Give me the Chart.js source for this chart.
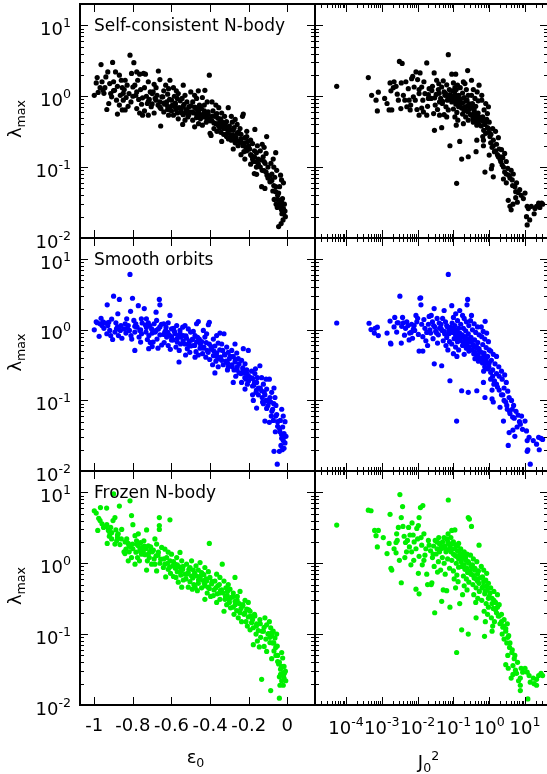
<!DOCTYPE html>
<html>
<head>
<meta charset="utf-8">
<script src="https://cdn.jsdelivr.net/npm/chart.js@4.4.1/dist/chart.umd.min.js"></script>
<style>
html, body { margin: 0; padding: 0; background: #fff; overflow: hidden; width: 547px; height: 774px; }
canvas { position: absolute; left: 0; top: 0; }
</style>
</head>
<body>
<canvas id="c0" width="560" height="774"></canvas>
<canvas id="c1" width="560" height="774"></canvas>
<canvas id="c2" width="560" height="774"></canvas>
<canvas id="c3" width="560" height="774"></canvas>
<canvas id="c4" width="560" height="774"></canvas>
<canvas id="c5" width="560" height="774"></canvas>
<script>
// tick values / labels
const epsTicks = [-1, -0.8, -0.6, -0.4, -0.2, 0];
const epsTickLabels = ['-1', '-0.8', '-0.6', '-0.4', '-0.2', '0'];
const lambdaTicks = [0.01, 0.1, 1, 10];
const lambdaTickExps = ['-2', '-1', '0', '1'];
const j2Ticks = [1e-4, 1e-3, 1e-2, 1e-1, 1, 10];
const j2TickExps = ['-4', '-3', '-2', '-1', '0', '1'];
const panelNames = ['Self-consistent N-body', 'Smooth orbits', 'Frozen N-body'];
const pointColors = ['#000000', '#0000ff', '#00ee00'];

// [epsilon_0, lambda_max]
const selfConsistentEps = [
  [-1.0,1.03],[-0.98,1.13],[-0.985,1.83],[-0.99,1.54],[-0.965,2.8],[-0.97,1.32],[-0.96,1.6],[-0.955,1.21],
  [-0.905,3.0],[-0.93,2.2],[-0.94,1.87],[-0.92,1.51],[-0.945,1.32],[-0.91,0.98],[-0.925,0.79],[-0.935,0.65],[-0.915,1.09],[-0.9,1.6],
  [-0.89,2.2],[-0.87,1.98],[-0.86,1.68],[-0.88,1.38],[-0.895,1.21],[-0.865,1.03],[-0.885,0.88],[-0.87,0.75],[-0.855,0.64],[-0.88,0.56],[-0.855,1.32],
  [-0.815,3.8],[-0.807,2.1],[-0.84,1.68],[-0.83,1.43],[-0.845,1.24],[-0.82,1.09],[-0.835,0.96],[-0.81,0.83],[-0.825,0.72],[-0.84,0.64],[-0.8,1.35],[-0.85,0.88],
  [-0.795,2.97],[-0.78,2.2],[-0.765,2.05],[-0.775,1.68],[-0.79,1.43],[-0.76,1.24],[-0.785,1.03],[-0.77,0.9],[-0.755,0.77],[-0.78,0.67],[-0.765,0.58],[-0.75,0.54],
  [-0.745,2.1],[-0.735,2.05],[-0.72,1.6],[-0.74,1.32],[-0.71,1.15],[-0.73,1.0],[-0.715,0.9],[-0.725,0.79],[-0.705,0.71],[-0.74,0.62],[-0.72,0.54],[-0.7,1.09],
  [-0.668,2.27],[-0.66,1.72],[-0.69,1.47],[-0.68,1.32],[-0.695,1.15],[-0.675,1.03],[-0.685,0.93],[-0.66,0.83],[-0.67,0.75],[-0.655,0.67],[-0.69,0.58],[-0.656,0.38],[-0.65,0.98],
  [-0.608,1.68],[-0.63,1.43],[-0.615,1.28],[-0.64,1.19],[-0.62,1.07],[-0.645,0.98],[-0.61,0.9],[-0.625,0.83],[-0.635,0.77],[-0.605,0.71],[-0.62,0.65],[-0.64,0.6],[-0.615,0.54],[-0.6,0.88],
  [-0.59,1.32],[-0.575,1.19],[-0.565,1.09],[-0.585,1.0],[-0.57,0.93],[-0.555,0.86],[-0.58,0.8],[-0.595,0.75],[-0.56,0.69],[-0.575,0.64],[-0.55,0.59],[-0.59,0.54],[-0.565,0.48],[-0.58,0.77],
  [-0.539,1.43],[-0.5,1.15],[-0.53,1.03],[-0.545,0.93],[-0.52,0.83],[-0.535,0.77],[-0.51,0.71],[-0.525,0.65],[-0.505,0.6],[-0.54,0.55],[-0.515,0.51],[-0.53,0.46],[-0.542,0.4],[-0.5,0.73],
  [-0.461,1.19],[-0.48,1.03],[-0.47,0.93],[-0.49,0.83],[-0.455,0.75],[-0.475,0.69],[-0.465,0.64],[-0.485,0.58],[-0.45,0.54],[-0.47,0.5],[-0.49,0.46],[-0.46,0.41],[-0.48,0.37],[-0.455,0.66],
  [-0.404,1.98],[-0.427,1.21],[-0.44,0.96],[-0.415,0.83],[-0.43,0.75],[-0.445,0.67],[-0.41,0.6],[-0.425,0.56],[-0.435,0.51],[-0.405,0.47],[-0.42,0.43],[-0.44,0.39],[-0.4,0.3],[-0.43,0.58],
  [-0.39,0.83],[-0.37,0.75],[-0.355,0.69],[-0.385,0.62],[-0.365,0.57],[-0.375,0.52],[-0.36,0.49],[-0.39,0.45],[-0.37,0.41],[-0.355,0.38],[-0.38,0.35],[-0.365,0.32],[-0.395,0.28],[-0.35,0.44],
  [-0.306,0.69],[-0.34,0.58],[-0.325,0.52],[-0.345,0.48],[-0.315,0.44],[-0.335,0.4],[-0.32,0.37],[-0.31,0.34],[-0.345,0.31],[-0.33,0.29],[-0.315,0.27],[-0.305,0.25],[-0.34,0.23],[-0.3,0.35],
  [-0.29,0.52],[-0.27,0.47],[-0.285,0.43],[-0.26,0.4],[-0.275,0.36],[-0.295,0.33],[-0.255,0.31],[-0.28,0.28],[-0.265,0.26],[-0.29,0.24],[-0.27,0.22],[-0.255,0.2],[-0.28,0.18],[-0.25,0.3],
  [-0.228,0.56],[-0.232,0.52],[-0.245,0.35],[-0.21,0.32],[-0.24,0.29],[-0.22,0.26],[-0.205,0.23],[-0.235,0.22],[-0.215,0.19],[-0.2,0.18],[-0.225,0.165],[-0.24,0.15],[-0.22,0.13],[-0.21,0.27],
  [-0.168,0.34],[-0.19,0.24],[-0.18,0.215],[-0.155,0.2],[-0.195,0.18],[-0.17,0.17],[-0.16,0.16],[-0.185,0.145],[-0.15,0.13],[-0.175,0.12],[-0.19,0.11],[-0.16,0.1],[-0.171,0.081],[-0.159,0.079],
  [-0.107,0.27],[-0.13,0.21],[-0.12,0.19],[-0.14,0.17],[-0.11,0.156],[-0.125,0.14],[-0.135,0.126],[-0.115,0.113],[-0.1,0.1],[-0.12,0.089],[-0.105,0.077],[-0.133,0.053],[-0.116,0.05],
  [-0.073,0.13],[-0.06,0.16],[-0.085,0.113],[-0.07,0.1],[-0.055,0.09],[-0.08,0.08],[-0.065,0.072],[-0.09,0.062],[-0.06,0.053],[-0.075,0.046],[-0.05,0.04],[-0.068,0.035],[-0.058,0.03],[-0.052,0.027],
  [-0.02,0.06],[-0.035,0.077],[-0.03,0.066],[-0.04,0.053],[-0.045,0.043],[-0.025,0.036],[-0.03,0.032],[-0.015,0.03],[-0.035,0.028],[-0.02,0.026],[-0.012,0.024],[-0.028,0.022],[-0.01,0.02],[-0.022,0.018],[-0.032,0.016],[-0.045,0.0145],
  [-0.95,1.1],[-0.9,1.2],[-0.85,1.1],[-0.8,1.0],[-0.78,1.15],[-0.75,0.95],[-0.72,0.85],[-0.7,0.78],[-0.68,0.88],[-0.66,0.7],[-0.64,0.8],
  [-0.62,0.72],[-0.6,0.62],[-0.58,0.7],[-0.57,0.58],[-0.55,0.66],[-0.54,0.72],[-0.53,0.58],[-0.52,0.62],[-0.51,0.55],[-0.49,0.6],[-0.48,0.7],[-0.47,0.56],[-0.46,0.6],[-0.45,0.48],
  [-0.44,0.55],[-0.43,0.62],[-0.42,0.5],[-0.41,0.55],[-0.4,0.45],[-0.39,0.52],[-0.38,0.42],[-0.37,0.55],[-0.36,0.4],[-0.35,0.36],[-0.34,0.44],[-0.33,0.35],[-0.32,0.42],[-0.31,0.3],
  [-0.3,0.38],[-0.29,0.28],[-0.28,0.33],[-0.27,0.25],[-0.26,0.3],[-0.25,0.23],[-0.24,0.25],[-0.23,0.2],[-0.22,0.22],[-0.21,0.17],[-0.2,0.2],[-0.19,0.15],[-0.18,0.13],[-0.17,0.14],
  [-0.16,0.12],[-0.15,0.11],[-0.14,0.1],[-0.13,0.09],[-0.12,0.12],[-0.11,0.085],[-0.1,0.07],[-0.09,0.075],[-0.08,0.065],[-0.07,0.055],[-0.06,0.045],[-0.05,0.035],[-0.04,0.03],[-0.03,0.025],[-0.02,0.022]
];

const smoothEps = [
  [-1.0,1.0],[-0.985,1.26],[-0.975,0.81],[-0.965,1.46],[-0.97,1.22],[-0.955,1.3],[-0.96,1.15],[-0.99,1.3],
  [-0.933,2.26],[-0.94,1.25],[-0.93,1.15],[-0.92,0.98],[-0.915,0.83],[-0.905,0.73],[-0.9,3.0],[-0.925,1.28],[-0.935,0.88],[-0.91,1.42],
  [-0.87,2.7],[-0.878,1.69],[-0.885,1.03],[-0.865,0.98],[-0.893,0.93],[-0.875,0.83],[-0.862,1.15],[-0.888,1.26],[-0.857,0.76],
  [-0.815,6.1],[-0.802,2.8],[-0.812,1.83],[-0.832,1.43],[-0.824,1.15],[-0.846,1.03],[-0.836,0.9],[-0.81,0.83],[-0.818,0.98],[-0.84,1.22],[-0.806,0.74],
  [-0.79,0.51],[-0.772,2.2],[-0.795,1.36],[-0.785,1.22],[-0.778,1.09],[-0.764,0.98],[-0.755,0.88],[-0.768,0.79],[-0.752,1.25],[-0.79,0.93],[-0.76,0.67],[-0.756,1.43],
  [-0.741,2.0],[-0.73,1.43],[-0.72,1.26],[-0.712,1.15],[-0.703,1.03],[-0.732,0.93],[-0.717,0.83],[-0.725,0.73],[-0.71,0.66],[-0.7,0.58],[-0.735,1.17],[-0.718,0.54],
  [-0.663,2.7],[-0.66,2.26],[-0.68,1.78],[-0.677,1.36],[-0.69,1.22],[-0.652,1.2],[-0.668,1.03],[-0.685,0.93],[-0.66,0.85],[-0.675,0.74],[-0.695,0.67],[-0.651,0.61],[-0.67,0.55],
  [-0.608,1.6],[-0.64,1.22],[-0.617,1.26],[-0.628,1.09],[-0.6,1.03],[-0.635,0.93],[-0.612,0.85],[-0.625,0.79],[-0.6,0.72],[-0.638,0.66],[-0.617,0.6],[-0.606,0.53],[-0.63,0.98],
  [-0.561,0.35],[-0.59,1.05],[-0.573,1.15],[-0.556,0.98],[-0.581,0.88],[-0.565,0.83],[-0.552,0.79],[-0.592,0.72],[-0.57,0.67],[-0.553,0.63],[-0.577,0.57],[-0.56,0.51],
  [-0.542,1.09],[-0.53,1.15],[-0.513,1.03],[-0.501,0.93],[-0.539,0.83],[-0.522,0.76],[-0.508,0.68],[-0.53,0.63],[-0.5,0.59],[-0.518,0.54],[-0.505,0.48],[-0.527,0.44],
  [-0.461,1.31],[-0.47,1.22],[-0.487,0.95],[-0.478,0.83],[-0.456,0.74],[-0.47,0.67],[-0.487,0.6],[-0.452,0.55],[-0.473,0.49],[-0.461,0.44],[-0.478,0.41],[-0.49,0.74],
  [-0.404,1.28],[-0.409,1.18],[-0.435,0.98],[-0.418,0.88],[-0.427,0.79],[-0.444,0.68],[-0.404,0.63],[-0.432,0.57],[-0.415,0.51],[-0.439,0.46],[-0.422,0.41],[-0.402,0.38],
  [-0.375,0.245],[-0.349,0.9],[-0.366,0.83],[-0.383,0.74],[-0.358,0.65],[-0.375,0.59],[-0.392,0.53],[-0.366,0.47],[-0.383,0.43],[-0.352,0.39],[-0.37,0.36],[-0.387,0.32],[-0.358,0.3],
  [-0.328,0.88],[-0.34,0.63],[-0.314,0.57],[-0.335,0.51],[-0.306,0.48],[-0.323,0.44],[-0.345,0.41],[-0.3,0.39],[-0.318,0.36],[-0.332,0.32],[-0.306,0.3],[-0.31,0.27],
  [-0.271,0.63],[-0.28,0.18],[-0.288,0.51],[-0.262,0.47],[-0.28,0.42],[-0.254,0.39],[-0.271,0.35],[-0.288,0.32],[-0.259,0.3],[-0.276,0.27],[-0.25,0.245],[-0.267,0.22],
  [-0.228,0.54],[-0.202,0.51],[-0.237,0.37],[-0.219,0.33],[-0.231,0.29],[-0.21,0.27],[-0.224,0.245],[-0.202,0.225],[-0.214,0.2],[-0.237,0.18],[-0.207,0.17],[-0.219,0.145],
  [-0.185,0.26],[-0.168,0.24],[-0.18,0.205],[-0.159,0.18],[-0.173,0.165],[-0.15,0.15],[-0.162,0.13],[-0.18,0.12],[-0.159,0.078],[-0.176,0.1],[-0.155,0.21],[-0.165,0.28],
  [-0.142,0.31],[-0.116,0.051],[-0.133,0.21],[-0.11,0.2],[-0.124,0.17],[-0.107,0.145],[-0.133,0.137],[-0.116,0.12],[-0.102,0.1],[-0.124,0.09],[-0.107,0.077],[-0.128,0.095],
  [-0.093,0.2],[-0.069,0.15],[-0.093,0.049],[-0.069,0.019],[-0.052,0.0125],[-0.081,0.13],[-0.064,0.11],[-0.086,0.095],[-0.059,0.085],[-0.076,0.075],[-0.055,0.063],[-0.072,0.052],[-0.05,0.043],[-0.062,0.036],[-0.083,0.06],
  [-0.041,0.019],[-0.029,0.075],[-0.021,0.06],[-0.036,0.052],[-0.012,0.05],[-0.024,0.042],[-0.038,0.036],[-0.017,0.034],[-0.007,0.031],[-0.029,0.029],[-0.021,0.027],[-0.012,0.025],[-0.033,0.023],[-0.017,0.021],[-0.026,0.02],
  [-0.95,1.05],[-0.88,1.1],[-0.83,1.05],[-0.79,1.12],[-0.76,1.0],[-0.73,1.08],[-0.7,0.9],[-0.68,0.98],[-0.66,1.1],[-0.64,0.86],[-0.62,0.92],
  [-0.6,0.8],[-0.585,0.95],[-0.57,0.76],[-0.555,0.88],[-0.54,0.7],[-0.525,0.82],[-0.51,0.62],[-0.495,0.72],[-0.48,0.6],[-0.465,0.78],[-0.45,0.63],[-0.435,0.55],
  [-0.42,0.66],[-0.41,0.48],[-0.395,0.58],[-0.38,0.5],[-0.365,0.42],[-0.35,0.52],[-0.34,0.37],[-0.325,0.45],[-0.31,0.34],[-0.295,0.42],[-0.285,0.3],[-0.27,0.38],
  [-0.26,0.27],[-0.25,0.33],[-0.24,0.24],[-0.23,0.27],[-0.22,0.21],[-0.21,0.24],[-0.2,0.19],[-0.19,0.21],[-0.18,0.16],[-0.17,0.18],[-0.16,0.14],[-0.15,0.12],
  [-0.14,0.15],[-0.13,0.11],[-0.12,0.13],[-0.11,0.1],[-0.1,0.085],[-0.09,0.11],[-0.08,0.07],[-0.07,0.09],[-0.06,0.06],[-0.05,0.05],[-0.04,0.04],[-0.03,0.033],[-0.02,0.03]
];

const frozenEps = [
  [-1.0,5.5],[-0.99,5.1],[-0.977,4.3],[-0.968,6.1],[-0.982,2.9],[-0.96,3.6],[-0.952,3.2],
  [-0.936,6.0],[-0.935,3.5],[-0.927,2.9],[-0.919,2.6],[-0.933,1.9],[-0.91,2.2],[-0.9,9.5],[-0.903,4.0],[-0.915,3.2],[-0.922,2.4],
  [-0.87,6.4],[-0.893,4.4],[-0.888,2.95],[-0.876,2.6],[-0.884,2.07],[-0.867,1.83],[-0.893,1.86],[-0.858,3.0],[-0.88,2.3],[-0.846,1.45],
  [-0.815,7.6],[-0.807,4.7],[-0.8,3.5],[-0.832,2.2],[-0.824,1.9],[-0.812,1.7],[-0.836,1.58],[-0.819,1.45],[-0.802,1.86],[-0.841,1.37],[-0.807,1.2],[-0.824,1.08],
  [-0.789,2.45],[-0.781,2.07],[-0.772,1.76],[-0.763,1.58],[-0.784,1.43],[-0.755,1.34],[-0.776,1.2],[-0.766,1.08],[-0.75,1.67],[-0.789,0.97],[-0.76,1.95],[-0.772,2.6],
  [-0.729,2.95],[-0.743,2.07],[-0.72,1.76],[-0.732,1.6],[-0.712,1.47],[-0.737,1.32],[-0.715,1.2],[-0.725,1.08],[-0.703,0.97],[-0.729,0.8],[-0.708,1.7],[-0.746,1.5],
  [-0.663,4.4],[-0.663,3.4],[-0.663,3.0],[-0.686,2.2],[-0.677,1.86],[-0.651,1.67],[-0.694,1.53],[-0.668,1.43],[-0.68,1.27],[-0.656,1.14],[-0.686,0.97],[-0.642,0.87],[-0.677,0.78],
  [-0.608,4.1],[-0.634,1.58],[-0.617,1.43],[-0.6,1.34],[-0.625,1.2],[-0.608,1.08],[-0.634,0.97],[-0.594,0.92],[-0.617,0.82],[-0.605,0.72],[-0.59,0.65],[-0.63,0.64],
  [-0.556,1.42],[-0.573,1.2],[-0.547,1.08],[-0.582,0.97],[-0.559,0.89],[-0.542,0.82],[-0.57,0.76],[-0.552,0.68],[-0.577,0.63],[-0.539,0.58],[-0.565,0.54],[-0.547,0.46],
  [-0.496,1.08],[-0.522,0.97],[-0.504,0.87],[-0.487,0.8],[-0.513,0.74],[-0.496,0.66],[-0.525,0.6],[-0.504,0.55],[-0.484,0.5],[-0.513,0.46],[-0.492,0.43],[-0.53,0.7],
  [-0.452,1.02],[-0.473,0.92],[-0.461,0.8],[-0.444,0.74],[-0.47,0.66],[-0.452,0.6],[-0.435,0.57],[-0.461,0.52],[-0.478,0.46],[-0.444,0.45],[-0.466,0.41],
  [-0.404,1.9],[-0.427,0.87],[-0.409,0.76],[-0.432,0.69],[-0.401,0.63],[-0.418,0.56],[-0.392,0.51],[-0.427,0.48],[-0.404,0.44],[-0.415,0.38],[-0.397,0.34],[-0.427,0.31],
  [-0.337,0.97],[-0.366,0.7],[-0.349,0.63],[-0.375,0.56],[-0.352,0.5],[-0.37,0.45],[-0.346,0.41],[-0.363,0.37],[-0.383,0.35],[-0.349,0.31],[-0.366,0.28],
  [-0.328,0.56],[-0.306,0.5],[-0.318,0.45],[-0.297,0.43],[-0.332,0.38],[-0.311,0.35],[-0.289,0.33],[-0.323,0.31],[-0.3,0.28],[-0.314,0.26],[-0.294,0.235],[-0.328,0.21],
  [-0.271,0.63],[-0.245,0.4],[-0.28,0.38],[-0.259,0.34],[-0.271,0.29],[-0.249,0.27],[-0.28,0.24],[-0.262,0.215],[-0.245,0.2],[-0.276,0.19],[-0.254,0.17],[-0.237,0.15],
  [-0.219,0.3],[-0.202,0.28],[-0.231,0.25],[-0.21,0.225],[-0.193,0.21],[-0.224,0.19],[-0.202,0.175],[-0.214,0.15],[-0.185,0.145],[-0.207,0.13],[-0.193,0.115],
  [-0.168,0.18],[-0.142,0.16],[-0.159,0.14],[-0.176,0.123],[-0.15,0.112],[-0.162,0.1],[-0.138,0.09],[-0.155,0.08],[-0.176,0.071],[-0.145,0.066],
  [-0.116,0.17],[-0.093,0.15],[-0.107,0.135],[-0.086,0.123],[-0.124,0.11],[-0.098,0.102],[-0.081,0.095],[-0.111,0.085],[-0.09,0.076],[-0.12,0.067],[-0.133,0.023],[-0.107,0.057],
  [-0.073,0.11],[-0.055,0.1],[-0.064,0.088],[-0.076,0.075],[-0.052,0.068],[-0.069,0.058],[-0.059,0.05],[-0.081,0.045],[-0.05,0.041],[-0.086,0.016],
  [-0.029,0.055],[-0.024,0.046],[-0.041,0.04],[-0.017,0.035],[-0.035,0.032],[-0.01,0.03],[-0.024,0.028],[-0.041,0.025],[-0.017,0.024],[-0.029,0.022],[-0.008,0.022],[-0.038,0.019],[-0.021,0.019],[-0.041,0.0125],
  [-0.97,4.0],[-0.94,3.3],[-0.91,2.7],[-0.88,2.5],[-0.86,2.2],[-0.84,2.0],[-0.82,1.75],[-0.8,1.6],[-0.78,1.85],[-0.76,1.45],[-0.74,1.75],[-0.72,1.35],
  [-0.7,1.45],[-0.69,1.15],[-0.67,1.3],[-0.66,1.0],[-0.64,1.15],[-0.62,1.0],[-0.61,0.88],[-0.59,1.05],[-0.58,0.85],[-0.57,0.95],[-0.55,0.78],[-0.54,0.9],
  [-0.52,0.7],[-0.51,0.82],[-0.49,0.62],[-0.48,0.72],[-0.46,0.58],[-0.45,0.66],[-0.43,0.52],[-0.42,0.6],[-0.41,0.46],[-0.39,0.55],[-0.38,0.42],[-0.36,0.48],
  [-0.35,0.38],[-0.34,0.42],[-0.32,0.34],[-0.31,0.4],[-0.3,0.31],[-0.28,0.34],[-0.27,0.26],[-0.26,0.3],[-0.24,0.23],[-0.23,0.26],[-0.22,0.2],[-0.2,0.22],
  [-0.19,0.18],[-0.18,0.16],[-0.17,0.19],[-0.16,0.13],[-0.14,0.14],[-0.13,0.11],[-0.12,0.125],[-0.1,0.1],[-0.09,0.09],[-0.08,0.105],[-0.07,0.075],[-0.06,0.065],
  [-0.05,0.05],[-0.045,0.038],[-0.035,0.027],[-0.03,0.035],[-0.02,0.026],[-0.015,0.028]
];

// [J_0^2, lambda_max]
const selfConsistentJ2 = [
  [5.5e-5,1.38],
  [4.2e-4,1.83],[5.2e-4,1.03],[6.9e-4,0.88],[7.5e-4,0.62],
  [8e-4,1.14],[1.4e-3,0.79],[1.7e-3,1.54],[1.6e-3,0.64],[1.2e-3,0.93],
  [1.8e-3,1.19],[2.1e-3,1.32],[2.5e-3,1.38],[2.7e-3,1.07],[2.9e-3,0.88],[1.9e-3,0.64],[3.1e-3,3.1],[2.2e-3,1.6],
  [3.7e-3,2.9],[3.5e-3,1.54],[4e-3,1.03],[4.4e-3,0.88],[5e-3,0.71],[5.5e-3,1.28],[5.8e-3,0.88],[6.2e-3,0.64],[4.7e-3,1.6],[3.4e-3,0.67],
  [6.8e-3,1.77],[7.3e-3,1.9],[9e-3,2.2],[0.01,1.72],[8e-3,1.35],[0.011,1.09],[8.6e-3,0.88],[6.4e-3,0.75],[9.6e-3,0.65],[0.011,0.54],[7.6e-3,0.98],[0.011,1.24],
  [0.018,2.95],[0.0117,2.13],[0.013,1.35],[0.016,1.09],[0.014,0.88],[0.019,0.72],[0.0145,0.6],[0.018,0.54],[0.021,1.28],[0.015,1.6],[0.02,0.93],[0.013,0.68],
  [0.029,2.13],[0.0295,0.33],[0.034,1.68],[0.026,1.38],[0.038,1.24],[0.033,1.06],[0.024,0.93],[0.041,0.83],[0.031,0.75],[0.036,0.65],[0.028,0.57],[0.041,0.54],[0.039,1.5],
  [0.047,0.36],[0.052,1.65],[0.055,1.15],[0.072,3.85],[0.08,0.2],[0.065,1.45],[0.047,1.35],[0.077,1.24],[0.058,1.03],[0.044,0.93],[0.068,0.88],[0.049,0.79],[0.062,0.71],[0.072,0.64],[0.055,0.55],[0.077,0.93],[0.065,0.51],
  [0.09,2.05],[0.116,2.05],[0.12,0.39],[0.123,0.059],[0.1,1.54],[0.13,1.43],[0.11,1.32],[0.095,1.19],[0.12,1.24],[0.14,1.03],[0.104,0.98],[0.128,0.91],[0.09,0.83],[0.117,0.77],[0.14,0.71],[0.1,0.66],[0.125,0.59],[0.11,0.51],[0.133,0.46],
  [0.15,0.23],[0.17,0.13],[0.19,1.59],[0.21,1.51],[0.25,2.3],[0.26,0.14],[0.155,1.32],[0.23,1.24],[0.18,1.11],[0.26,1.03],[0.2,0.96],[0.24,0.88],[0.165,0.8],[0.27,0.74],[0.21,0.7],[0.245,0.62],[0.18,0.56],[0.22,0.51],[0.26,0.46],[0.19,0.41],
  [0.32,1.68],[0.43,0.165],[0.45,0.24],[0.52,1.43],[0.36,1.24],[0.46,1.15],[0.32,1.03],[0.4,0.93],[0.49,0.86],[0.34,0.79],[0.42,0.72],[0.29,0.67],[0.38,0.64],[0.49,0.58],[0.33,0.54],[0.42,0.5],[0.52,0.46],[0.36,0.43],[0.45,0.39],
  [0.66,0.27],[0.69,0.24],[0.69,0.2],[0.76,0.085],[0.62,0.88],[0.8,0.79],[0.95,0.71],[0.72,0.64],[0.89,0.57],[0.66,0.51],[0.85,0.47],[1.0,0.43],[0.76,0.4],[0.95,0.35],[1.0,0.31],[0.62,1.03],
  [1.15,0.095],[1.2,0.105],[1.3,0.073],[1.0,0.148],[1.25,0.35],[1.5,0.32],[1.12,0.29],[1.8,0.26],[1.3,0.24],[1.6,0.21],[1.2,0.19],[1.9,0.18],[1.4,0.165],[1.7,0.15],[2.0,0.13],
  [2.2,0.176],[2.7,0.156],[2.4,0.136],[3.0,0.12],[2.3,0.108],[3.3,0.096],[2.7,0.085],[3.5,0.077],[2.5,0.068],[3.0,0.06],[3.4,0.034],[3.8,0.028],[2.1,0.14],
  [4.1,0.09],[4.7,0.08],[4.4,0.066],[5.8,0.06],[5.2,0.053],[7.1,0.048],[6.4,0.044],[7.8,0.04],[5.5,0.037],[9.0,0.036],[4.1,0.025],[4.6,0.03],[6.1,0.032],
  [10,0.043],[11.5,0.028],[12.4,0.026],[15,0.028],[11,0.02],[13.5,0.018],[11.5,0.0153],[21,0.028],[24,0.031],[29,0.031],[18,0.022],[26,0.027],[31,0.03],[19,0.026],
  [0.02,1.05],[0.025,1.2],[0.03,0.95],[0.04,1.1],[0.05,0.85],[0.06,1.1],[0.07,0.98],[0.08,1.05],[0.085,0.9],[0.09,1.0],[0.1,0.9],[0.11,1.08],[0.12,0.82],
  [0.13,0.95],[0.14,0.86],[0.15,0.75],[0.16,0.92],[0.17,0.68],[0.18,0.8],[0.2,0.62],[0.22,0.85],[0.24,0.72],[0.26,0.6],[0.28,0.78],[0.3,0.55],[0.33,0.7],
  [0.35,0.48],[0.38,0.6],[0.4,0.52],[0.44,0.45],[0.48,0.53],[0.52,0.4],[0.56,0.5],[0.6,0.38],[0.65,0.45],[0.7,0.33],[0.75,0.42],[0.8,0.3],[0.9,0.36],
  [1.05,0.27],[1.1,0.22],[1.3,0.2],[1.5,0.17],[1.8,0.14],[2.1,0.12],[2.5,0.1],[3.0,0.08],[3.8,0.07],[4.5,0.055],[5.5,0.045]
];

const smoothJ2 = [
  [5.5e-5,1.25],
  [4.4e-4,1.24],[5e-4,1.01],[6.5e-4,1.05],[6.2e-4,0.9],
  [7.5e-4,1.09],[8e-4,0.83],[1.4e-3,0.9],[1.7e-3,1.33],[1.75e-3,0.65],
  [1.8e-3,0.63],[2.3e-3,1.5],[2.7e-3,1.26],[2.6e-3,0.93],[3.2e-3,3.0],[2.9e-3,1.26],[2.2e-3,1.1],
  [3.8e-3,1.5],[3.5e-3,0.65],[4e-3,1.26],[4.6e-3,1.05],[5.4e-3,1.15],[6e-3,0.9],[5.8e-3,0.72],[4.3e-3,0.84],[5e-3,1.3],[3.6e-3,1.12],
  [6.8e-3,1.2],[7.6e-3,1.02],[8.3e-3,0.98],[7.2e-3,0.76],[0.011,0.5],[0.0116,2.8],[0.01,1.46],[9e-3,1.6],[8e-3,1.15],[0.0105,0.86],[6.6e-3,0.92],[9.5e-3,1.3],
  [0.0122,2.85],[0.0124,2.26],[0.014,0.5],[0.013,1.2],[0.015,1.4],[0.016,1.05],[0.018,0.92],[0.014,0.8],[0.02,1.2],[0.017,0.7],[0.021,1.55],[0.019,0.6],
  [0.029,2.0],[0.0292,0.33],[0.024,1.6],[0.026,1.3],[0.03,1.1],[0.035,1.45],[0.032,0.95],[0.038,0.85],[0.027,0.75],[0.04,1.25],[0.036,0.65],[0.023,0.9],[0.041,1.05],
  [0.047,0.31],[0.055,1.88],[0.08,0.19],[0.072,6.1],[0.045,1.2],[0.05,1.45],[0.06,1.3],[0.068,1.1],[0.048,0.98],[0.057,0.88],[0.074,0.96],[0.065,0.78],[0.052,0.7],[0.078,0.68],[0.062,0.6],[0.07,0.52],
  [0.09,2.2],[0.116,1.69],[0.123,0.051],[0.15,1.88],[0.1,1.5],[0.13,1.35],[0.092,1.25],[0.11,1.15],[0.14,1.05],[0.098,0.98],[0.12,0.9],[0.145,0.82],[0.105,0.75],[0.13,0.68],[0.09,0.63],[0.115,0.57],[0.14,0.52],[0.1,0.46],[0.125,0.42],
  [0.17,0.137],[0.24,2.26],[0.25,2.7],[0.26,0.13],[0.18,1.6],[0.2,1.45],[0.23,1.3],[0.16,1.2],[0.27,1.15],[0.19,1.05],[0.22,0.97],[0.26,0.88],[0.17,0.8],[0.21,0.74],[0.25,0.68],[0.18,0.6],[0.23,0.55],[0.27,0.5],[0.2,0.45],
  [0.32,1.6],[0.45,0.137],[0.3,1.35],[0.38,1.22],[0.47,1.1],[0.34,1.0],[0.42,0.92],[0.52,0.85],[0.31,0.78],[0.39,0.72],[0.48,0.66],[0.35,0.6],[0.44,0.55],[0.53,0.5],[0.37,0.46],[0.46,0.42],[0.5,0.36],[0.4,0.39],
  [0.77,1.32],[0.69,0.18],[0.76,0.11],[0.6,1.1],[0.68,0.95],[0.85,0.9],[0.62,0.8],[0.75,0.74],[0.95,0.68],[0.66,0.62],[0.82,0.56],[1.0,0.52],[0.72,0.47],[0.9,0.42],[0.65,0.38],[0.8,0.34],[0.98,0.3],[0.7,0.26],
  [1.2,0.105],[1.3,0.095],[1.1,0.5],[1.3,0.45],[1.6,0.42],[1.15,0.37],[1.45,0.33],[1.85,0.3],[1.25,0.27],[1.6,0.24],[1.1,0.2],[1.9,0.22],[1.35,0.17],[1.7,0.155],[1.2,0.14],
  [2.0,0.08],[2.5,0.051],[3.6,0.035],[3.4,0.023],[2.2,0.26],[2.7,0.23],[2.3,0.2],[3.0,0.18],[2.6,0.15],[3.3,0.135],[2.4,0.12],[3.6,0.11],[2.9,0.095],[3.2,0.075],[3.8,0.065],
  [5.2,0.031],[7.4,0.046],[4.2,0.1],[4.8,0.085],[4.4,0.075],[5.6,0.07],[6.4,0.062],[5.0,0.056],[7.0,0.05],[6.0,0.042],[8.5,0.039],[4.6,0.038],[8.0,0.06],
  [10,0.051],[11,0.037],[11.5,0.027],[12,0.02],[11.5,0.019],[14,0.0125],[17,0.027],[21,0.024],[24,0.03],[25,0.02],[31,0.028],[13,0.03],[28,0.029],
  [0.022,1.0],[0.028,1.15],[0.034,0.9],[0.045,1.05],[0.055,0.95],[0.065,1.15],[0.075,0.88],[0.085,1.08],[0.095,0.92],[0.105,1.02],[0.115,0.85],[0.125,0.98],
  [0.135,0.76],[0.15,0.9],[0.16,0.7],[0.175,0.85],[0.19,0.66],[0.21,0.8],[0.23,0.62],[0.25,0.75],[0.27,0.58],[0.3,0.68],[0.33,0.52],[0.36,0.62],[0.4,0.48],
  [0.44,0.58],[0.48,0.44],[0.52,0.54],[0.56,0.4],[0.6,0.48],[0.65,0.34],[0.7,0.42],[0.75,0.3],[0.82,0.38],[0.9,0.28],[1.0,0.34],[1.1,0.25],[1.25,0.22],
  [1.4,0.19],[1.6,0.17],[1.9,0.14],[2.2,0.12],[2.6,0.1],[3.1,0.085],[3.7,0.07],[4.5,0.058]
];

const frozenJ2 = [
  [5.5e-5,3.45],
  [4.2e-4,5.6],[5e-4,5.5],[6.9e-4,2.45],[7.5e-4,1.7],[6.3e-4,2.9],
  [8e-4,2.9],[1.4e-3,1.37],[1.7e-3,4.9],[1.6e-3,1.9],[1.1e-3,2.3],
  [1.8e-3,0.85],[1.9e-3,0.8],[2.5e-3,1.96],[2.6e-3,2.6],[2.7e-3,2.1],[2.5e-3,1.4],[3.2e-3,9.3],[3.1e-3,1.1],[2.2e-3,1.6],[2.9e-3,3.2],
  [3.8e-3,6.3],[3.5e-3,4.4],[3.5e-3,0.53],[3.9e-3,3.3],[4.6e-3,1.96],[4.9e-3,1.45],[5.6e-3,3.2],[6.1e-3,2.5],[5.9e-3,1.7],[4.2e-3,2.4],[5.2e-3,2.1],[4.4e-3,1.2],
  [9e-3,0.43],[0.011,0.37],[0.0105,0.72],[7e-3,3.7],[7.5e-3,2.5],[0.0095,3.1],[0.0105,3.4],[8e-3,2.0],[6.8e-3,1.45],[9e-3,1.6],[0.011,1.25],[7.8e-3,1.1],[6.5e-3,0.95],[0.01,2.2],
  [0.012,6.1],[0.014,6.5],[0.011,4.4],[0.0125,2.3],[0.015,2.6],[0.013,1.8],[0.017,1.6],[0.016,1.3],[0.015,1.1],[0.018,0.7],[0.021,1.8],[0.02,2.1],[0.0135,0.95],[0.019,0.5],
  [0.025,0.53],[0.024,0.5],[0.03,0.2],[0.023,1.5],[0.028,1.75],[0.026,1.2],[0.031,2.1],[0.035,1.6],[0.033,1.35],[0.038,1.05],[0.04,1.9],[0.029,0.9],[0.036,0.75],[0.041,1.45],[0.039,2.3],[0.027,1.35],
  [0.047,0.29],[0.052,0.42],[0.065,0.41],[0.08,0.24],[0.072,7.8],[0.045,1.6],[0.05,2.0],[0.058,1.75],[0.066,2.2],[0.073,1.9],[0.062,1.45],[0.049,1.2],[0.076,1.55],[0.055,1.0],[0.069,1.15],[0.078,0.85],[0.059,0.7],[0.044,0.8],[0.071,2.6],
  [0.09,2.9],[0.11,2.95],[0.123,0.055],[0.15,0.27],[0.085,2.3],[0.1,2.0],[0.12,1.8],[0.14,1.9],[0.095,1.6],[0.13,1.5],[0.11,1.3],[0.145,1.25],[0.09,1.1],[0.12,1.0],[0.14,0.88],[0.1,0.78],[0.125,0.68],[0.105,0.6],[0.135,0.55],[0.115,0.45],
  [0.17,0.115],[0.26,0.1],[0.26,4.4],[0.28,4.2],[0.16,1.6],[0.2,1.45],[0.24,1.35],[0.18,1.2],[0.22,1.1],[0.27,1.0],[0.17,0.9],[0.21,0.82],[0.25,0.74],[0.19,0.66],[0.23,0.6],[0.27,0.54],[0.2,0.48],[0.24,0.42],[0.18,0.36],
  [0.32,3.3],[0.43,0.17],[0.52,1.8],[0.3,1.3],[0.36,1.15],[0.45,1.05],[0.34,0.95],[0.4,0.85],[0.5,0.78],[0.31,0.7],[0.38,0.62],[0.47,0.56],[0.35,0.5],[0.43,0.45],[0.53,0.4],[0.37,0.36],[0.48,0.32],[0.42,0.28],
  [0.74,0.093],[0.6,0.9],[0.7,0.8],[0.85,0.72],[0.65,0.64],[0.8,0.58],[0.95,0.52],[0.68,0.47],[0.88,0.42],[0.75,0.37],[1.0,0.34],[0.62,0.3],[0.82,0.27],[0.95,0.24],[0.72,0.21],[0.9,0.19],[0.78,0.15],
  [1.2,0.11],[1.1,0.45],[1.35,0.4],[1.7,0.36],[1.2,0.32],[1.5,0.28],[1.9,0.26],[1.3,0.23],[1.6,0.2],[1.15,0.17],[1.8,0.18],[1.4,0.15],[2.0,0.14],[1.25,0.13],
  [2.9,0.037],[3.4,0.033],[2.2,0.19],[2.6,0.16],[3.2,0.14],[2.4,0.125],[2.9,0.11],[3.5,0.095],[2.6,0.085],[3.1,0.075],[3.7,0.065],[2.3,0.1],[3.3,0.05],
  [4.1,0.024],[4.6,0.027],[5.4,0.031],[7.4,0.024],[7.4,0.019],[7.4,0.016],[4.3,0.055],[5.0,0.045],[6.2,0.04],[4.6,0.036],[7.8,0.033],[5.8,0.028],[8.6,0.029],[6.6,0.022],
  [10,0.033],[11.5,0.029],[12,0.0122],[21,0.023],[24,0.026],[28,0.028],[21,0.019],[14,0.021],[17,0.024],[13,0.026],[31,0.026],[18,0.02],
  [0.035,2.0],[0.045,1.75],[0.055,2.3],[0.06,1.6],[0.07,2.0],[0.08,1.7],[0.085,1.45],[0.095,1.9],[0.1,1.35],[0.11,1.6],[0.12,1.25],[0.13,1.75],
  [0.14,1.15],[0.15,1.4],[0.165,1.05],[0.18,1.3],[0.2,0.95],[0.22,1.2],[0.24,0.85],[0.26,1.05],[0.29,0.78],[0.32,0.9],[0.35,0.68],[0.39,0.8],
  [0.43,0.6],[0.47,0.7],[0.52,0.52],[0.57,0.62],[0.63,0.45],[0.7,0.55],[0.77,0.4],[0.85,0.48],[0.95,0.32],[1.05,0.38],[1.2,0.27],[1.35,0.3],
  [1.5,0.22],[1.7,0.24],[1.9,0.18],[2.2,0.15],[2.5,0.13],[2.9,0.12],[3.3,0.09],[3.8,0.075],[4.4,0.06],[5.2,0.05]
];

const W = 560, H = 774;
const FONT = '"DejaVu Sans", sans-serif';
const colEdges = [[80, 315], [315, 548]];
const rowEdges = [[4, 238], [238, 471], [471, 705]];

function drawPower(ctx, exp, x, baseline, align) {
  ctx.font = '18px ' + FONT;
  const w1 = ctx.measureText('10').width;
  ctx.font = '12.6px ' + FONT;
  const w2 = ctx.measureText(exp).width;
  const start = align === 'right' ? x - w1 - w2 : x - (w1 + w2) / 2;
  ctx.textAlign = 'left';
  ctx.font = '18px ' + FONT;
  ctx.fillText('10', start, baseline);
  ctx.font = '12.6px ' + FONT;
  ctx.fillText(exp, start + w1, baseline - 8);
}

// draws runs like [['ε',18,0],['0',12.6,4]] centered at x
function drawRuns(ctx, runs, x, baseline) {
  let total = 0;
  for (const [t, size] of runs) { ctx.font = size + 'px ' + FONT; total += ctx.measureText(t).width; }
  let cx = x - total / 2;
  ctx.textAlign = 'left';
  for (const [t, size, dy] of runs) {
    ctx.font = size + 'px ' + FONT;
    ctx.fillText(t, cx, baseline + dy);
    cx += ctx.measureText(t).width;
  }
}

function logMinors(lo, hi) {
  const out = [];
  for (let e = Math.floor(Math.log10(lo)); e <= Math.ceil(Math.log10(hi)); e++) {
    for (let m = 2; m <= 9; m++) {
      const v = m * Math.pow(10, e);
      if (v > lo && v < hi) out.push(v);
    }
  }
  return out;
}

const mplAxes = {
  id: 'mplAxes',
  afterDatasetsDraw(chart, args, o) {
    const { ctx, chartArea: a, scales: { x, y } } = chart;
    ctx.save();
    ctx.strokeStyle = '#000';
    ctx.fillStyle = '#000';
    ctx.lineWidth = 1;
    ctx.beginPath();
    const vt = (v, len) => {
      const p = Math.round(x.getPixelForValue(v)) + 0.5;
      ctx.moveTo(p, a.bottom); ctx.lineTo(p, a.bottom - len);
      ctx.moveTo(p, a.top); ctx.lineTo(p, a.top + len);
    };
    const ht = (v, len) => {
      const p = Math.round(y.getPixelForValue(v)) + 0.5;
      ctx.moveTo(a.left, p); ctx.lineTo(a.left + len, p);
      ctx.moveTo(a.right, p); ctx.lineTo(a.right - len, p);
    };
    o.xMajor.forEach(v => vt(v, 8));
    o.xMinor.forEach(v => vt(v, 4));
    lambdaTicks.forEach(v => ht(v, 8));
    logMinors(y.min, y.max).forEach(v => ht(v, 4));
    ctx.stroke();

    ctx.lineWidth = 2;
    ctx.strokeRect(a.left, a.top, a.right - a.left, a.bottom - a.top);

    if (o.name) {
      ctx.font = '17px ' + FONT;
      ctx.textAlign = 'left';
      ctx.fillText(o.name, a.left + 14, a.top + 27);
    }
    if (o.yLabels) {
      lambdaTicks.forEach((v, i) => drawPower(ctx, lambdaTickExps[i], a.left - 9, y.getPixelForValue(v) + 9.5, 'right'));
      const cy = (a.top + a.bottom) / 2 - 2;
      ctx.save();
      ctx.translate(21, cy);
      ctx.rotate(-Math.PI / 2);
      drawRuns(ctx, [['λ', 18, 0], ['max', 12.6, 3.5]], 0, 0);
      ctx.restore();
    }
    if (o.xLabels === 'eps') {
      ctx.font = '18px ' + FONT;
      ctx.textAlign = 'center';
      epsTicks.forEach((v, i) => ctx.fillText(epsTickLabels[i], x.getPixelForValue(v), a.bottom + 26));
      drawRuns(ctx, [['ε', 18, 0], ['0', 12.6, 4]], (a.left + a.right) / 2 - 2, 763);
    }
    if (o.xLabels === 'j2') {
      j2Ticks.forEach((v, i) => drawPower(ctx, j2TickExps[i], x.getPixelForValue(v), a.bottom + 29, 'center'));
      drawRuns(ctx, [['J', 18, 0], ['0', 12.6, 4], ['2', 12.6, -8]], (a.left + a.right) / 2 - 3, 768);
    }
    ctx.restore();
  }
};

const leftData = [selfConsistentEps, smoothEps, frozenEps];
const rightData = [selfConsistentJ2, smoothJ2, frozenJ2];
const j2Min = Math.pow(10, -4.866), j2Max = Math.pow(10, 1.642);

function makePanel(id, rows, color, col, row) {
  const [l, r] = colEdges[col];
  const [t, b] = rowEdges[row];
  const isLeft = col === 0;
  new Chart(document.getElementById(id), {
    type: 'scatter',
    data: {
      datasets: [{
        data: rows.map(([xv, yv]) => ({ x: xv, y: yv })),
        pointBackgroundColor: color,
        pointBorderColor: color,
        pointBorderWidth: 0,
        pointRadius: 2.6
      }]
    },
    options: {
      responsive: false,
      animation: false,
      devicePixelRatio: 1,
      events: [],
      layout: { autoPadding: false, padding: { left: l, top: t, right: W - r, bottom: H - b } },
      plugins: {
        legend: { display: false },
        tooltip: { enabled: false },
        mplAxes: {
          xMajor: isLeft ? epsTicks : j2Ticks,
          xMinor: isLeft ? [] : logMinors(j2Min, j2Max),
          yLabels: isLeft,
          xLabels: row === 2 ? (isLeft ? 'eps' : 'j2') : null,
          name: isLeft ? panelNames[row] : null
        }
      },
      scales: {
        x: isLeft
          ? { type: 'linear', min: -1.074, max: 0.1435, display: false }
          : { type: 'logarithmic', min: j2Min, max: j2Max, display: false },
        y: { type: 'logarithmic', min: 0.01, max: 20, display: false }
      }
    },
    plugins: [mplAxes]
  });
}

for (let row = 0; row < 3; row++) {
  makePanel('c' + (row * 2), leftData[row], pointColors[row], 0, row);
  makePanel('c' + (row * 2 + 1), rightData[row], pointColors[row], 1, row);
}
</script>
</body>
</html>
